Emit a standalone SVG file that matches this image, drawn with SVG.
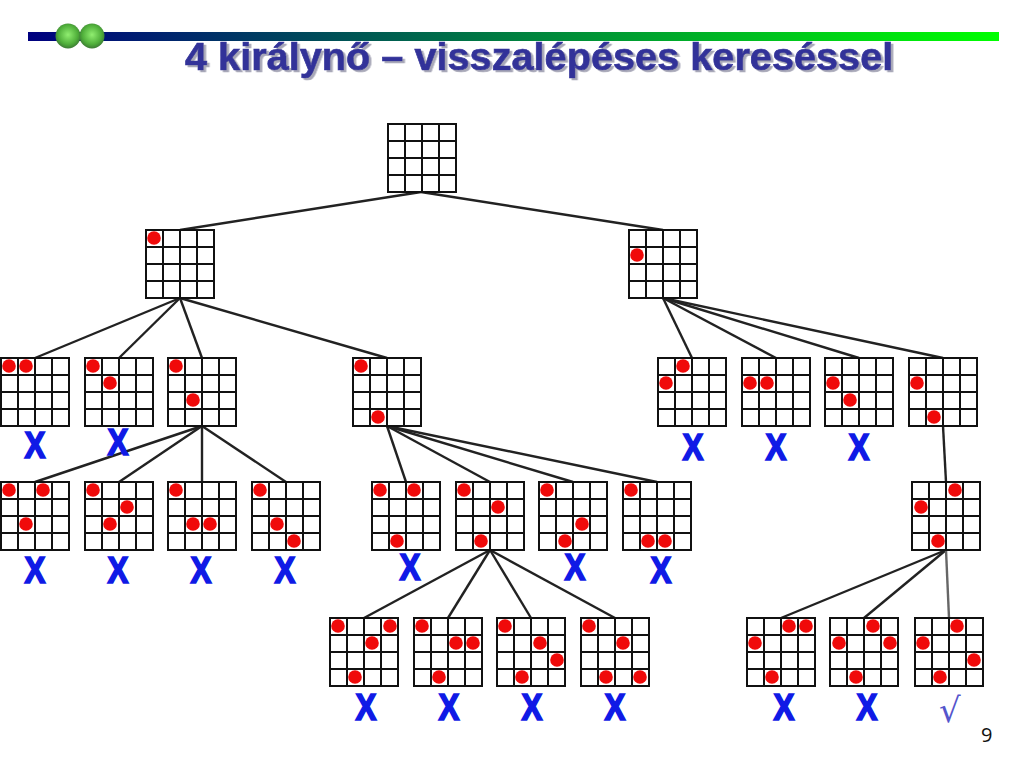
<svg xmlns="http://www.w3.org/2000/svg" width="1024" height="768" viewBox="0 0 1024 768">
<style>
.grid{fill:#fff;stroke:#111;stroke-width:2}
.q{fill:#f00a0a}
.x{font:bold 32px "Liberation Sans",sans-serif;fill:#0f1ae6;text-anchor:middle;stroke:#0f1ae6;stroke-width:1.5;transform-box:fill-box;transform-origin:center;transform:scale(.98,1.15)}
.edges line{stroke:#222;stroke-width:2.4}
.title{font:bold 39.7px "Liberation Sans",sans-serif;stroke-width:.7;fill:#333399;stroke:#333399;filter:url(#shadow)}
</style>
<defs>
<filter id="shadow" x="-5%" y="-20%" width="110%" height="140%"><feDropShadow dx="2.5" dy="2" stdDeviation=".5" flood-color="#a8a8b8"/></filter>
<linearGradient id="bar"><stop offset="0" stop-color="#000080"/><stop offset="1" stop-color="#00ff00"/></linearGradient>
<radialGradient id="ball" cx=".5" cy=".45" r=".55"><stop offset="0" stop-color="#90ee70"/><stop offset=".7" stop-color="#4fae3a"/><stop offset="1" stop-color="#3c7a34"/></radialGradient>
<g id="b"><rect class="grid" width="68" height="68"/><path class="grid" d="M17 0V68M34 0V68M51 0V68M0 17H68M0 34H68M0 51H68"/></g>
<circle id="q" class="q" r="6.8"/>
</defs>
<rect width="1024" height="768" fill="#fff"/>
<g id="header">
<rect x="28" y="32" width="971" height="9" fill="url(#bar)"/>
<circle cx="68" cy="36" r="12.5" fill="url(#ball)"/><circle cx="92" cy="36" r="12.5" fill="url(#ball)"/>
<text class="title" x="185" y="70">4 királynő – visszalépéses kereséssel</text>
</g>
<g id="connectors" class="edges">
<line x1="421" y1="192" x2="180" y2="230"/><line x1="421" y1="192" x2="663" y2="230"/>
<line x1="180" y1="298" x2="35" y2="358"/><line x1="180" y1="298" x2="119" y2="358"/><line x1="180" y1="298" x2="202" y2="358"/><line x1="180" y1="298" x2="387" y2="358"/>
<line x1="663" y1="298" x2="692" y2="358"/><line x1="663" y1="298" x2="776" y2="358"/><line x1="663" y1="298" x2="859" y2="358"/><line x1="663" y1="298" x2="943" y2="358"/>
<line x1="202" y1="426" x2="35" y2="482"/><line x1="202" y1="426" x2="119" y2="482"/><line x1="202" y1="426" x2="202" y2="482"/><line x1="202" y1="426" x2="286" y2="482"/>
<line x1="387" y1="426" x2="406" y2="482"/><line x1="387" y1="426" x2="490" y2="482"/><line x1="387" y1="426" x2="573" y2="482"/><line x1="387" y1="426" x2="657" y2="482"/>
<line x1="943" y1="426" x2="946" y2="482"/>
<line x1="490" y1="550" x2="364" y2="618"/><line x1="490" y1="550" x2="448" y2="618"/><line x1="490" y1="550" x2="531" y2="618"/><line x1="490" y1="550" x2="615" y2="618"/>
<line x1="946" y1="550" x2="781" y2="618"/><line x1="946" y1="550" x2="864" y2="618"/><line x1="946" y1="550" x2="949" y2="618" style="stroke:#666"/>
</g>
<g id="n0"><use href="#b" x="388" y="124"/></g>
<g id="n1"><use href="#b" x="146" y="230"/><use href="#q" x="154" y="238"/></g>
<g id="n2"><use href="#b" x="629" y="230"/><use href="#q" x="637" y="255"/></g>
<g id="n3"><use href="#b" x="1" y="358"/><use href="#q" x="9" y="366"/><use href="#q" x="26" y="366"/><text class="x" x="35" y="456">X</text></g>
<g id="n4"><use href="#b" x="85" y="358"/><use href="#q" x="93" y="366"/><use href="#q" x="110" y="383"/><text class="x" x="118" y="453">X</text></g>
<g id="n5"><use href="#b" x="168" y="358"/><use href="#q" x="176" y="366"/><use href="#q" x="193" y="400"/></g>
<g id="n6"><use href="#b" x="353" y="358"/><use href="#q" x="361" y="366"/><use href="#q" x="378" y="417"/></g>
<g id="n7"><use href="#b" x="658" y="358"/><use href="#q" x="666" y="383"/><use href="#q" x="683" y="366"/><text class="x" x="693" y="458">X</text></g>
<g id="n8"><use href="#b" x="742" y="358"/><use href="#q" x="750" y="383"/><use href="#q" x="767" y="383"/><text class="x" x="776" y="458">X</text></g>
<g id="n9"><use href="#b" x="825" y="358"/><use href="#q" x="833" y="383"/><use href="#q" x="850" y="400"/><text class="x" x="859" y="458">X</text></g>
<g id="n10"><use href="#b" x="909" y="358"/><use href="#q" x="917" y="383"/><use href="#q" x="934" y="417"/></g>
<g id="n11"><use href="#b" x="1" y="482"/><use href="#q" x="9" y="490"/><use href="#q" x="26" y="524"/><use href="#q" x="43" y="490"/><text class="x" x="35" y="581">X</text></g>
<g id="n12"><use href="#b" x="85" y="482"/><use href="#q" x="93" y="490"/><use href="#q" x="110" y="524"/><use href="#q" x="127" y="507"/><text class="x" x="118" y="581">X</text></g>
<g id="n13"><use href="#b" x="168" y="482"/><use href="#q" x="176" y="490"/><use href="#q" x="193" y="524"/><use href="#q" x="210" y="524"/><text class="x" x="201" y="581">X</text></g>
<g id="n14"><use href="#b" x="252" y="482"/><use href="#q" x="260" y="490"/><use href="#q" x="277" y="524"/><use href="#q" x="294" y="541"/><text class="x" x="285" y="581">X</text></g>
<g id="n15"><use href="#b" x="372" y="482"/><use href="#q" x="380" y="490"/><use href="#q" x="397" y="541"/><use href="#q" x="414" y="490"/><text class="x" x="410" y="578">X</text></g>
<g id="n16"><use href="#b" x="456" y="482"/><use href="#q" x="464" y="490"/><use href="#q" x="481" y="541"/><use href="#q" x="498" y="507"/></g>
<g id="n17"><use href="#b" x="539" y="482"/><use href="#q" x="547" y="490"/><use href="#q" x="565" y="541"/><use href="#q" x="582" y="524"/><text class="x" x="575" y="578">X</text></g>
<g id="n18"><use href="#b" x="623" y="482"/><use href="#q" x="631" y="490"/><use href="#q" x="648" y="541"/><use href="#q" x="665" y="541"/><text class="x" x="661" y="581">X</text></g>
<g id="n19"><use href="#b" x="912" y="482"/><use href="#q" x="921" y="507"/><use href="#q" x="938" y="541"/><use href="#q" x="955" y="490"/></g>
<g id="n20"><use href="#b" x="330" y="618"/><use href="#q" x="338" y="626"/><use href="#q" x="355" y="677"/><use href="#q" x="372" y="643"/><use href="#q" x="390" y="626"/><text class="x" x="366" y="718">X</text></g>
<g id="n21"><use href="#b" x="414" y="618"/><use href="#q" x="422" y="626"/><use href="#q" x="439" y="677"/><use href="#q" x="456" y="643"/><use href="#q" x="473" y="643"/><text class="x" x="449" y="718">X</text></g>
<g id="n22"><use href="#b" x="497" y="618"/><use href="#q" x="505" y="626"/><use href="#q" x="522" y="677"/><use href="#q" x="540" y="643"/><use href="#q" x="557" y="660"/><text class="x" x="532" y="718">X</text></g>
<g id="n23"><use href="#b" x="581" y="618"/><use href="#q" x="589" y="626"/><use href="#q" x="606" y="677"/><use href="#q" x="623" y="643"/><use href="#q" x="640" y="677"/><text class="x" x="615" y="718">X</text></g>
<g id="n24"><use href="#b" x="747" y="618"/><use href="#q" x="755" y="643"/><use href="#q" x="772" y="677"/><use href="#q" x="789" y="626"/><use href="#q" x="806" y="626"/><text class="x" x="784" y="718">X</text></g>
<g id="n25"><use href="#b" x="830" y="618"/><use href="#q" x="839" y="643"/><use href="#q" x="856" y="677"/><use href="#q" x="873" y="626"/><use href="#q" x="890" y="643"/><text class="x" x="867" y="718">X</text></g>
<g id="n26"><use href="#b" x="915" y="618"/><use href="#q" x="923" y="643"/><use href="#q" x="940" y="677"/><use href="#q" x="957" y="626"/><use href="#q" x="974" y="660"/><text x="939" y="722" font-family="'DejaVu Sans',sans-serif" font-size="34" fill="#5555cc">√</text></g>
<text id="page" x="981" y="742" font-family="'Open Sans',sans-serif" font-size="20" fill="#111">9</text>
</svg>
